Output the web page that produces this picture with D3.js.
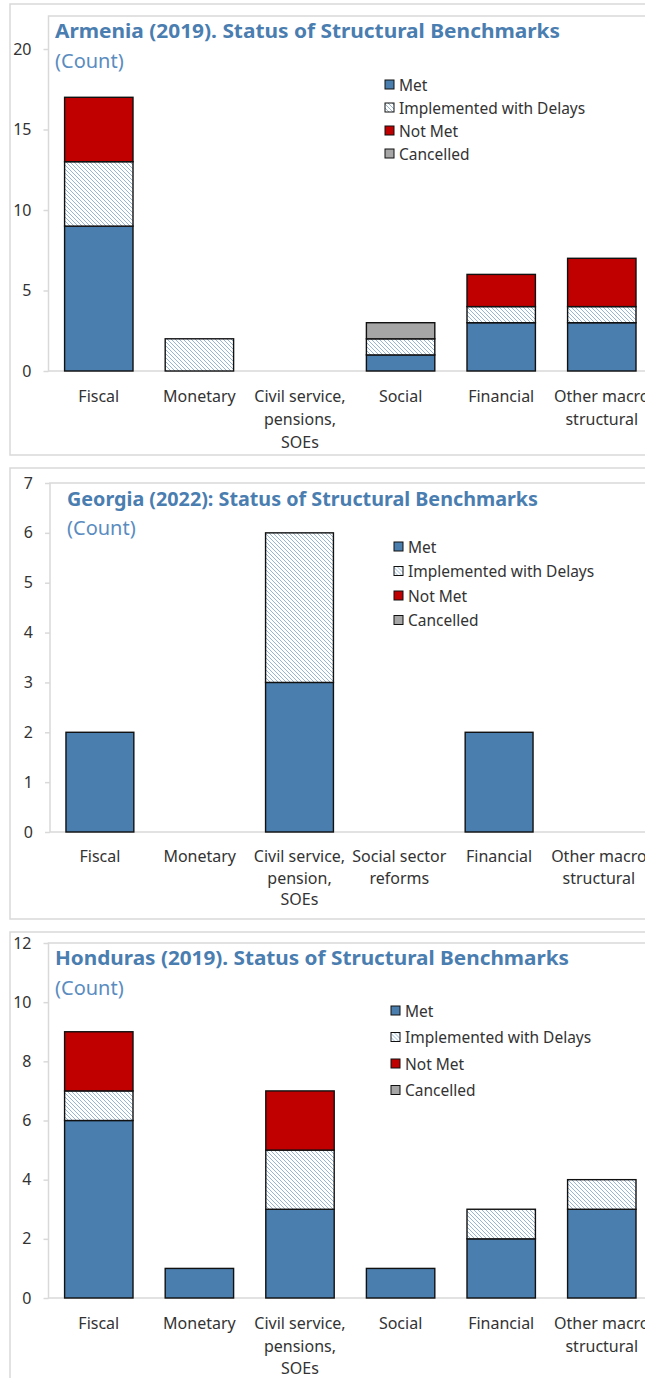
<!DOCTYPE html>
<html>
<head>
<meta charset="utf-8">
<script src="https://cdn.jsdelivr.net/npm/d3@7"></script>
<style>
  body { margin: 0; background: #fff; }
  svg { display: block; font-family: "Noto Sans", "Open Sans", sans-serif; }
</style>
</head>
<body>
<script>
// Status series (legend order)
var statuses = ["Met", "Implemented with Delays", "Not Met", "Cancelled"];

// Armenia (2019)
var armeniaCategories = ["Fiscal", "Monetary", "Civil service,|pensions,|SOEs", "Social", "Financial", "Other macro|structural"];
var armeniaMet       = [9, 0, 0, 1, 3, 3];
var armeniaDelays    = [4, 2, 0, 1, 1, 1];
var armeniaNotMet    = [4, 0, 0, 0, 2, 3];
var armeniaCancelled = [0, 0, 0, 1, 0, 0];
var armeniaTicks     = [0, 5, 10, 15, 20];

// Georgia (2022)
var georgiaCategories = ["Fiscal", "Monetary", "Civil service,|pension,|SOEs", "Social sector|reforms", "Financial", "Other macro|structural"];
var georgiaMet       = [2, 0, 3, 0, 2, 0];
var georgiaDelays    = [0, 0, 3, 0, 0, 0];
var georgiaNotMet    = [0, 0, 0, 0, 0, 0];
var georgiaCancelled = [0, 0, 0, 0, 0, 0];
var georgiaTicks     = [0, 1, 2, 3, 4, 5, 6, 7];

// Honduras (2019)
var hondurasCategories = ["Fiscal", "Monetary", "Civil service,|pensions,|SOEs", "Social", "Financial", "Other macro|structural"];
var hondurasMet       = [6, 1, 3, 1, 2, 3];
var hondurasDelays    = [1, 0, 2, 0, 1, 1];
var hondurasNotMet    = [2, 0, 2, 0, 0, 0];
var hondurasCancelled = [0, 0, 0, 0, 0, 0];
var hondurasTicks     = [0, 2, 4, 6, 8, 10, 12];

var colors = {"Met": "#4a7eae", "Implemented with Delays": "url(#hatch)", "Not Met": "#c00000", "Cancelled": "#a6a6a6"};
var titleColor = "#4a7db0";
var frameColor = "#d9d9d9";

var svg = d3.select("body").append("svg")
    .attr("width", 645)
    .attr("height", 1378);

// hatch pattern for "Implemented with Delays"
var pat = svg.append("defs").append("pattern")
    .attr("id", "hatch")
    .attr("patternUnits", "userSpaceOnUse")
    .attr("width", 4).attr("height", 4);
pat.append("rect").attr("width", 4).attr("height", 4).attr("fill", "#fff");
pat.append("path")
    .attr("d", "M-1,-1L5,5M3,-1L5,1M-1,3L1,5")
    .attr("stroke", "#7aa3cb").attr("stroke-width", 0.8);

var panels = [
    { title: "Armenia (2019). Status of Structural Benchmarks", titleW: 505,
      cats: armeniaCategories, series: [armeniaMet, armeniaDelays, armeniaNotMet, armeniaCancelled],
      ticks: armeniaTicks, max: 20,
      box: [10, 4, 455], frameTop: 16, left: 48.5, bottom: 371, yMaxPos: 49, step: 100.6,
      titleX: 55, titleY: 38, countY: 68, legX: 385, legY: 85, legDy: 23,
      labY: 402, labDy: 23 },
    { title: "Georgia (2022): Status of Structural Benchmarks", titleW: 471,
      cats: georgiaCategories, series: [georgiaMet, georgiaDelays, georgiaNotMet, georgiaCancelled],
      ticks: georgiaTicks, max: 7,
      box: [10, 468, 919], frameTop: 483, left: 50, bottom: 832, yMaxPos: 483, step: 99.8,
      titleX: 67, titleY: 506, countY: 535, legX: 394, legY: 547, legDy: 24.5,
      labY: 862, labDy: 21.5 },
    { title: "Honduras (2019). Status of Structural Benchmarks", titleW: 514,
      cats: hondurasCategories, series: [hondurasMet, hondurasDelays, hondurasNotMet, hondurasCancelled],
      ticks: hondurasTicks, max: 12,
      box: [10, 932, 1390], frameTop: 943, left: 48.5, bottom: 1298, yMaxPos: 943, step: 100.6,
      titleX: 55, titleY: 965, countY: 995, legX: 391, legY: 1011, legDy: 26.5,
      labY: 1329, labDy: 22.5 }
];

panels.forEach(function (p) {
    var g = svg.append("g");

    // outer chart border
    g.append("rect")
        .attr("x", p.box[0]).attr("y", p.box[1])
        .attr("width", 700).attr("height", p.box[2] - p.box[1])
        .attr("fill", "none").attr("stroke", frameColor).attr("stroke-width", 1.5);

    // plot area frame
    g.append("rect")
        .attr("x", p.left).attr("y", p.frameTop)
        .attr("width", 700).attr("height", p.bottom - p.frameTop)
        .attr("fill", "none").attr("stroke", frameColor).attr("stroke-width", 1.5);

    var x = d3.scaleBand()
        .domain(p.cats)
        .range([p.left, p.left + p.step * p.cats.length])
        .paddingInner(0.32).paddingOuter(0.16);

    var y = d3.scaleLinear()
        .domain([0, p.max])
        .range([p.bottom, p.yMaxPos]);

    // y axis
    var yAxis = g.append("g")
        .attr("transform", "translate(" + p.left + ",0)")
        .call(d3.axisLeft(y).tickValues(p.ticks).tickFormat(d3.format("d")).tickSize(5).tickPadding(12));
    yAxis.select(".domain").remove();
    yAxis.selectAll("line").attr("stroke", frameColor).attr("stroke-width", 1.5);
    yAxis.selectAll("text").attr("font-size", 16).attr("fill", "#333")
        .attr("font-family", "Noto Sans, sans-serif");

    // stacked bars
    var rows = p.cats.map(function (c, i) {
        var r = { cat: c };
        statuses.forEach(function (s, k) { r[s] = p.series[k][i]; });
        return r;
    });
    var stack = d3.stack().keys(statuses)(rows);

    stack.forEach(function (layer) {
        g.selectAll(null)
            .data(layer.filter(function (d) { return d[1] > d[0]; }))
            .enter()
            .append("rect")
            .attr("x", function (d) { return x(d.data.cat); })
            .attr("width", x.bandwidth())
            .attr("y", function (d) { return y(d[1]); })
            .attr("height", function (d) { return y(d[0]) - y(d[1]); })
            .attr("fill", colors[layer.key])
            .attr("stroke", "#111")
            .attr("stroke-width", 1.4);
    });

    // category labels
    p.cats.forEach(function (c) {
        var t = g.append("text")
            .attr("text-anchor", "middle")
            .attr("font-size", 16)
            .attr("fill", "#333");
        c.split("|").forEach(function (line, j) {
            t.append("tspan")
                .attr("x", x(c) + x.bandwidth() / 2)
                .attr("y", p.labY + j * p.labDy)
                .text(line);
        });
    });

    // title
    g.append("text")
        .attr("x", p.titleX).attr("y", p.titleY)
        .attr("font-size", 20).attr("font-weight", "bold")
        .attr("fill", titleColor)
        .attr("textLength", p.titleW).attr("lengthAdjust", "spacingAndGlyphs")
        .text(p.title);
    g.append("text")
        .attr("x", p.titleX).attr("y", p.countY)
        .attr("font-size", 20)
        .attr("fill", "#5a8cc0")
        .text("(Count)");

    // legend
    var leg = g.selectAll(null)
        .data(statuses)
        .enter()
        .append("g")
        .attr("transform", function (d, i) { return "translate(" + p.legX + "," + (p.legY + i * p.legDy) + ")"; });
    leg.append("rect")
        .attr("x", 0).attr("y", -5).attr("width", 9).attr("height", 9)
        .attr("fill", function (d) { return colors[d]; })
        .attr("stroke", "#111").attr("stroke-width", 1);
    leg.append("text")
        .attr("x", 14).attr("y", 5.5)
        .attr("font-size", 15.5)
        .attr("fill", "#333")
        .text(function (d) { return d; });
});
</script>
</body>
</html>
